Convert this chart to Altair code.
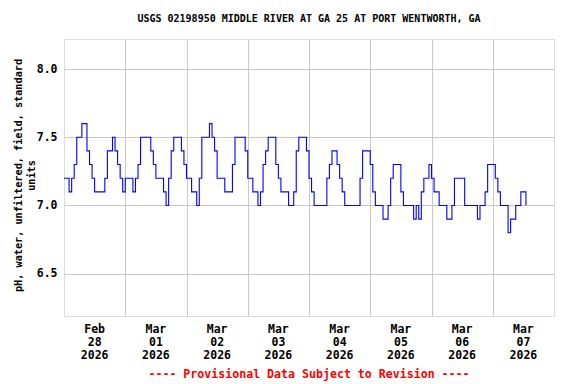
import altair as alt
import pandas as pd

title_text = "USGS 02198950 MIDDLE RIVER AT GA 25 AT PORT WENTWORTH, GA"
y_title = "pH, water, unfiltered, field, standard\nunits"
footer = "---- Provisional Data Subject to Revision ----"

day_starts = ["2026-02-28", "2026-03-01", "2026-03-02", "2026-03-03",
              "2026-03-04", "2026-03-05", "2026-03-06", "2026-03-07"]
day_labels = ["Feb\n28\n2026", "Mar\n01\n2026", "Mar\n02\n2026", "Mar\n03\n2026",
              "Mar\n04\n2026", "Mar\n05\n2026", "Mar\n06\n2026", "Mar\n07\n2026"]

# hourly pH readings per day
ph_feb28 = [7.2, 7.2, 7.1, 7.2, 7.3, 7.5, 7.5, 7.6, 7.6, 7.4, 7.3, 7.2, 7.1, 7.1, 7.1, 7.1, 7.2, 7.4, 7.4, 7.5, 7.4, 7.3, 7.2, 7.1]
ph_mar01 = [7.2, 7.2, 7.2, 7.1, 7.2, 7.3, 7.5, 7.5, 7.5, 7.5, 7.4, 7.3, 7.2, 7.2, 7.2, 7.1, 7.0, 7.2, 7.4, 7.5, 7.5, 7.5, 7.4, 7.3]
ph_mar02 = [7.2, 7.2, 7.1, 7.1, 7.0, 7.2, 7.5, 7.5, 7.5, 7.6, 7.5, 7.4, 7.2, 7.2, 7.2, 7.1, 7.1, 7.1, 7.3, 7.5, 7.5, 7.5, 7.5, 7.4]
ph_mar03 = [7.2, 7.2, 7.1, 7.1, 7.0, 7.1, 7.3, 7.4, 7.5, 7.5, 7.5, 7.3, 7.2, 7.1, 7.1, 7.1, 7.0, 7.0, 7.1, 7.4, 7.5, 7.5, 7.5, 7.4]
ph_mar04 = [7.2, 7.1, 7.0, 7.0, 7.0, 7.0, 7.0, 7.2, 7.3, 7.4, 7.4, 7.3, 7.2, 7.1, 7.0, 7.0, 7.0, 7.0, 7.0, 7.0, 7.2, 7.4, 7.4, 7.4]
ph_mar05 = [7.3, 7.1, 7.0, 7.0, 7.0, 6.9, 6.9, 7.0, 7.2, 7.3, 7.3, 7.3, 7.1, 7.0, 7.0, 7.0, 7.0, 6.9, 7.0, 6.9, 7.1, 7.2, 7.2, 7.3]
ph_mar06 = [7.2, 7.1, 7.1, 7.0, 7.0, 7.0, 6.9, 6.9, 7.0, 7.2, 7.2, 7.2, 7.2, 7.0, 7.0, 7.0, 7.0, 7.0, 6.9, 7.0, 7.0, 7.1, 7.3, 7.3]
ph_mar07 = [7.3, 7.2, 7.1, 7.0, 7.0, 7.0, 6.8, 6.9, 6.9, 7.0, 7.0, 7.1, 7.1, 7.0]

all_days = [ph_feb28, ph_mar01, ph_mar02, ph_mar03, ph_mar04, ph_mar05, ph_mar06, ph_mar07]
rows = []
for d, vals in zip(day_starts, all_days):
    for h, v in enumerate(vals):
        rows.append({"t": f"{d}T{h:02d}:00:00Z", "ph": v})
df = pd.DataFrame(rows)

lab_df = pd.DataFrame({"t": [f"{d}T12:00:00Z" for d in day_starts], "lab": day_labels})

W, H = 490, 277
FONT = "DejaVu Sans Mono"

x_scale = alt.Scale(type="utc", domain=["2026-02-28T00:00:00Z", "2026-03-08T00:00:00Z"])
grid_vals = [alt.DateTime(year=2026, month=3, date=i, utc=True) for i in range(1, 8)]

line = alt.Chart(df).mark_line(interpolate="step-after", color="#0000ff", strokeWidth=1.1).encode(
    x=alt.X("t:T", scale=x_scale,
            axis=alt.Axis(values=grid_vals, labels=False, ticks=False, domain=False, title=None,
                          grid=True, gridColor="#c8c8c8", gridWidth=1)),
    y=alt.Y("ph:Q", scale=alt.Scale(domain=[6.19, 8.22], nice=False, zero=False),
            axis=alt.Axis(values=[6.5, 7.0, 7.5, 8.0], format=".1f", ticks=False, domain=False,
                          title=None, labelFont=FONT, labelFontSize=11.5, labelFontWeight="bold",
                          labelColor="black", labelPadding=7,
                          grid=True, gridColor="#c8c8c8", gridWidth=1)),
)

xlabels = alt.Chart(lab_df).mark_text(font=FONT, fontSize=11.5, fontWeight="bold", color="black",
                                      lineBreak="\n", lineHeight=13, baseline="top", align="center").encode(
    x=alt.X("t:T", scale=x_scale),
    y=alt.value(H + 8),
    text="lab:N",
)

ann = pd.DataFrame({"k": ["title", "ytitle", "footer"],
                    "txt": [title_text, y_title, footer]})

title_mark = alt.Chart(ann[ann.k == "title"]).mark_text(
    font=FONT, fontSize=10, fontWeight="bold", color="black", align="center", baseline="middle").encode(
    x=alt.value(W / 2), y=alt.value(-20), text="txt:N")

ytitle_mark = alt.Chart(ann[ann.k == "ytitle"]).mark_text(
    font=FONT, fontSize=10.2, fontWeight="bold", color="black", align="center", baseline="middle",
    angle=270, lineBreak="\n", lineHeight=13).encode(
    x=alt.value(-45), y=alt.value(H / 2 - 2), text="txt:N")

footer_mark = alt.Chart(ann[ann.k == "footer"]).mark_text(
    font=FONT, fontSize=11.6, fontWeight="bold", color="#ff0000", align="center", baseline="middle").encode(
    x=alt.value(W / 2), y=alt.value(H + 59), text="txt:N")

chart = alt.layer(line, xlabels, title_mark, ytitle_mark, footer_mark).properties(
    width=W, height=H,
    autosize=alt.AutoSizeParams(type="none"),
    padding={"left": 56, "top": 31, "right": 14, "bottom": 68},
).configure_view(stroke="black", strokeWidth=1).configure(background="white")

chart.save("out.html", embed_options={"renderer": "svg", "actions": False})
